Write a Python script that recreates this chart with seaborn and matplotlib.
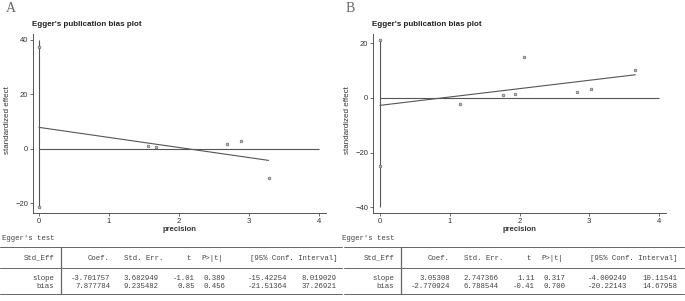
import numpy as np
import pandas as pd
import matplotlib
matplotlib.use("Agg")
import matplotlib.pyplot as plt
from matplotlib.lines import Line2D
import seaborn as sns

sns.set_theme(style="white")
plt.rcParams['font.family'] = ['Liberation Sans', 'DejaVu Sans']

# ---------------- data ----------------
panel_labels = ["A", "B"]
title = "Egger's publication bias plot"

# Panel A
prec_A = [1.55, 1.67, 2.68, 2.89, 3.28]
eff_A = [0.86, 0.5, 1.8, 2.8, -10.9]
zero_pts_A = [37.3, -21.5]
slope_A, bias_A = -3.701757, 7.877784
yticks_A = [-20, 0, 20, 40]

# Panel B
prec_B = [1.15, 1.77, 1.93, 2.07, 2.82, 3.02, 3.66]
eff_B = [-2.1, 0.85, 1.2, 15.0, 2.2, 3.3, 10.0]
zero_pts_B = [21.1, -25.1]
slope_B, bias_B = 3.05308, -2.770924
yticks_B = [-40, -20, 0, 20]

xticks = [0, 1, 2, 3, 4]

# Egger's test tables
tab_header = ["Std_Eff", "Coef.", "Std. Err.", "t", "P>|t|", "[95% Conf. Interval]"]
rows_label = ["slope", "bias"]
tab_A = [["-3.701757", "3.682949", "-1.01", "0.389", "-15.42254", "8.019029"],
         ["7.877784", "9.235482", "0.85", "0.456", "-21.51364", "37.26921"]]
tab_B = [["3.05308", "2.747366", "1.11", "0.317", "-4.009249", "10.11541"],
         ["-2.770924", "6.788544", "-0.41", "0.700", "-20.22143", "14.67958"]]

# ---------------- figure ----------------
W, H = 685, 301
fig = plt.figure(figsize=(W / 100, H / 100), dpi=100)
fig.patch.set_facecolor("white")

def fx(px):
    return px / W

def fy(py):
    return 1 - py / H

gray = "#555555"
txtc = "#333333"

def panel(left_px, right_px, top_px, bot_px, xlim, ylim, prec, eff, zpts,
          slope, bias, yticks, letter, letter_x):
    ax = fig.add_axes([fx(left_px), fy(bot_px), fx(right_px - left_px),
                       (bot_px - top_px) / H])
    ax.set_facecolor("white")
    ax.set_xlim(*xlim)
    ax.set_ylim(*ylim)
    for s in ["top", "right"]:
        ax.spines[s].set_visible(False)
    for s in ["left", "bottom"]:
        ax.spines[s].set_color(gray)
        ax.spines[s].set_linewidth(0.7)
    ax.set_xticks(xticks)
    ax.set_yticks(yticks)
    ax.tick_params(axis="both", direction="out", length=2.5, width=0.6,
                   color=gray, labelsize=5.5, labelcolor=txtc, pad=1,
                   left=True, bottom=True)
    # vertical line at precision 0 covering ticks and zero points
    lo = min(min(yticks), min(zpts))
    hi = max(max(yticks), max(zpts))
    ax.vlines(0, lo, hi, color=gray, lw=0.8)
    # horizontal zero line
    ax.hlines(0, 0, max(xticks), color=gray, lw=0.8)
    # fitted line
    xs = np.array([0, max(prec)])
    fit = pd.DataFrame({"x": xs, "y": bias + slope * xs})
    sns.lineplot(data=fit, x="x", y="y", ax=ax, color=gray, lw=0.8)
    # points
    pts = pd.DataFrame({"x": list(prec) + [0] * len(zpts),
                        "y": list(eff) + list(zpts)})
    sns.scatterplot(data=pts, x="x", y="y", ax=ax, s=4, marker="o",
                    facecolor="#bbbbbb", edgecolor=gray, linewidth=0.4,
                    zorder=5)
    ax.set_xlabel("")
    ax.set_ylabel("")
    # labels
    cx = (left_px + right_px) / 2
    fig.text(fx(cx), fy(229.5), "precision", ha="center", va="center",
             fontsize=5.5, color=txtc, fontweight="bold")
    fig.text(fx(left_px - 25), fy(120), "standardized effect", rotation=90,
             ha="center", va="center", fontsize=5.8, color=txtc)
    fig.text(fx(left_px - 1), fy(25), title, ha="left", va="center",
             fontsize=5.8, color="#222222", fontweight="bold")
    fig.text(fx(letter_x), fy(8), letter, ha="left", va="center",
             fontsize=10, color="#666666", family="Liberation Serif")
    return ax

panel(33, 326, 34, 213, (-0.086, 4.1), (-23.6, 42.2), prec_A, eff_A,
      zero_pts_A, slope_A, bias_A, yticks_A, panel_labels[0], 6)
panel(373, 666, 34, 213, (-0.1, 4.1), (-42.1, 23.3), prec_B, eff_B,
      zero_pts_B, slope_B, bias_B, yticks_B, panel_labels[1], 346)

# ---------------- tables ----------------
mono = dict(family="Liberation Mono", fontsize=5.3, color="#444444",
            va="center")
head_x = [54, 110, 163, 191, 223, 337]
val_x = [110, 159, 195, 225, 287, 337]

def table(off, line_l, line_r, rows):
    fig.text(fx(off + 2), fy(239), "Egger's test", ha="left", **mono)
    for yy in [247, 268, 294]:
        fig.add_artist(Line2D([fx(line_l), fx(line_r)], [fy(yy), fy(yy)],
                              color="#666666", lw=0.7))
    fig.add_artist(Line2D([fx(off + 61), fx(off + 61)], [fy(247), fy(294)],
                          color="#666666", lw=0.9))
    for h, x in zip(tab_header, head_x):
        fig.text(fx(off + x), fy(258), h, ha="right", **mono)
    for r, (lab, vals) in enumerate(zip(rows_label, rows)):
        yy = [278, 286][r]
        fig.text(fx(off + 54), fy(yy), lab, ha="right", **mono)
        for v, x in zip(vals, val_x):
            fig.text(fx(off + x), fy(yy), v, ha="right", **mono)

table(0, 0, 342, tab_A)
table(340, 344, 684, tab_B)

fig.savefig("out.png", dpi=100, facecolor="white")
